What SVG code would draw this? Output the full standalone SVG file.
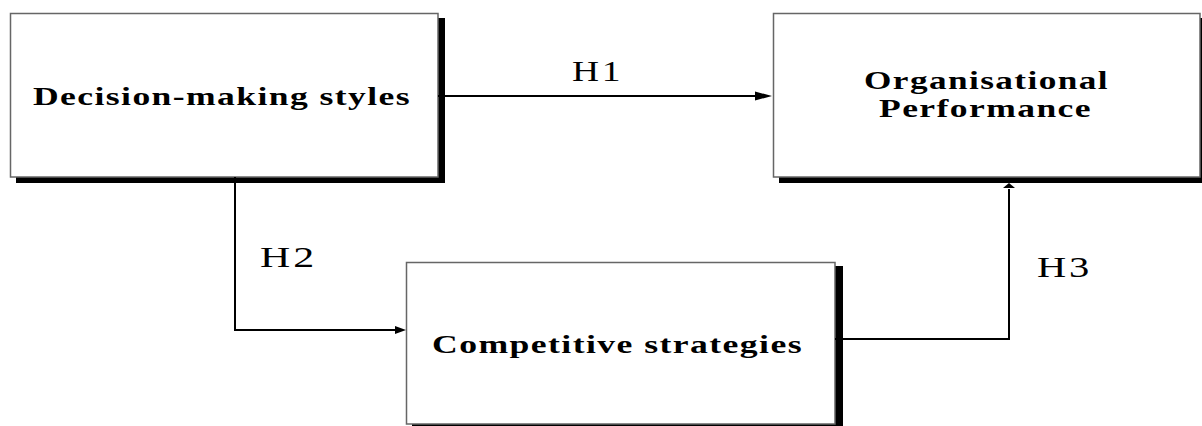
<svg xmlns="http://www.w3.org/2000/svg" width="1202" height="426" viewBox="0 0 1202 426">
<style>
.box{fill:#fff;stroke:#666;stroke-width:1.5}
.shadow{fill:#000}
.lbl{font-family:"Liberation Serif","Times New Roman",serif;font-weight:bold;font-size:25px;letter-spacing:1px;fill:#000}
.h{font-family:"Liberation Serif","Times New Roman",serif;font-size:29px;letter-spacing:2px;fill:#000}
.con{fill:none;stroke:#000;stroke-width:2}
.head{fill:#000}
</style>
<rect width="1202" height="426" fill="#fff"/>
<g id="node-decision">
<rect class="shadow" x="16" y="18" width="429" height="165"/>
<rect class="box" x="10.5" y="13.5" width="427.5" height="163.5"/>
<text class="lbl" x="33" y="105" textLength="378" lengthAdjust="spacingAndGlyphs">Decision-making styles</text>
</g>
<g id="node-performance">
<rect class="shadow" x="779" y="18" width="428" height="165"/>
<rect class="box" x="773.5" y="13.5" width="426.5" height="163.5"/>
<text class="lbl" x="864" y="89" textLength="245" lengthAdjust="spacingAndGlyphs">Organisational</text>
<text class="lbl" x="879" y="117" textLength="213" lengthAdjust="spacingAndGlyphs">Performance</text>
</g>
<g id="node-competitive">
<rect class="shadow" x="412" y="266" width="431" height="170"/>
<rect class="box" x="406.5" y="262.5" width="428.5" height="161.5"/>
<text class="lbl" x="432" y="353" textLength="371" lengthAdjust="spacingAndGlyphs">Competitive strategies</text>
</g>
<g id="connectors">
<path class="con" d="M438 96 H758"/>
<polygon class="head" points="755,91.5 772,96 755,100.5"/>
<path class="con" d="M235 177 V330 H397"/>
<polygon class="head" points="395,326 406,330 395,334"/>
<path class="con" d="M835 339 H1009 V189"/>
<polygon class="head" points="1003,188 1009,183 1015,188"/>
<text class="h" x="572" y="81" textLength="51" lengthAdjust="spacingAndGlyphs">H1</text>
<text class="h" x="260" y="267" textLength="57" lengthAdjust="spacingAndGlyphs">H2</text>
<text class="h" x="1037" y="277" textLength="55" lengthAdjust="spacingAndGlyphs">H3</text>
</g>
</svg>
